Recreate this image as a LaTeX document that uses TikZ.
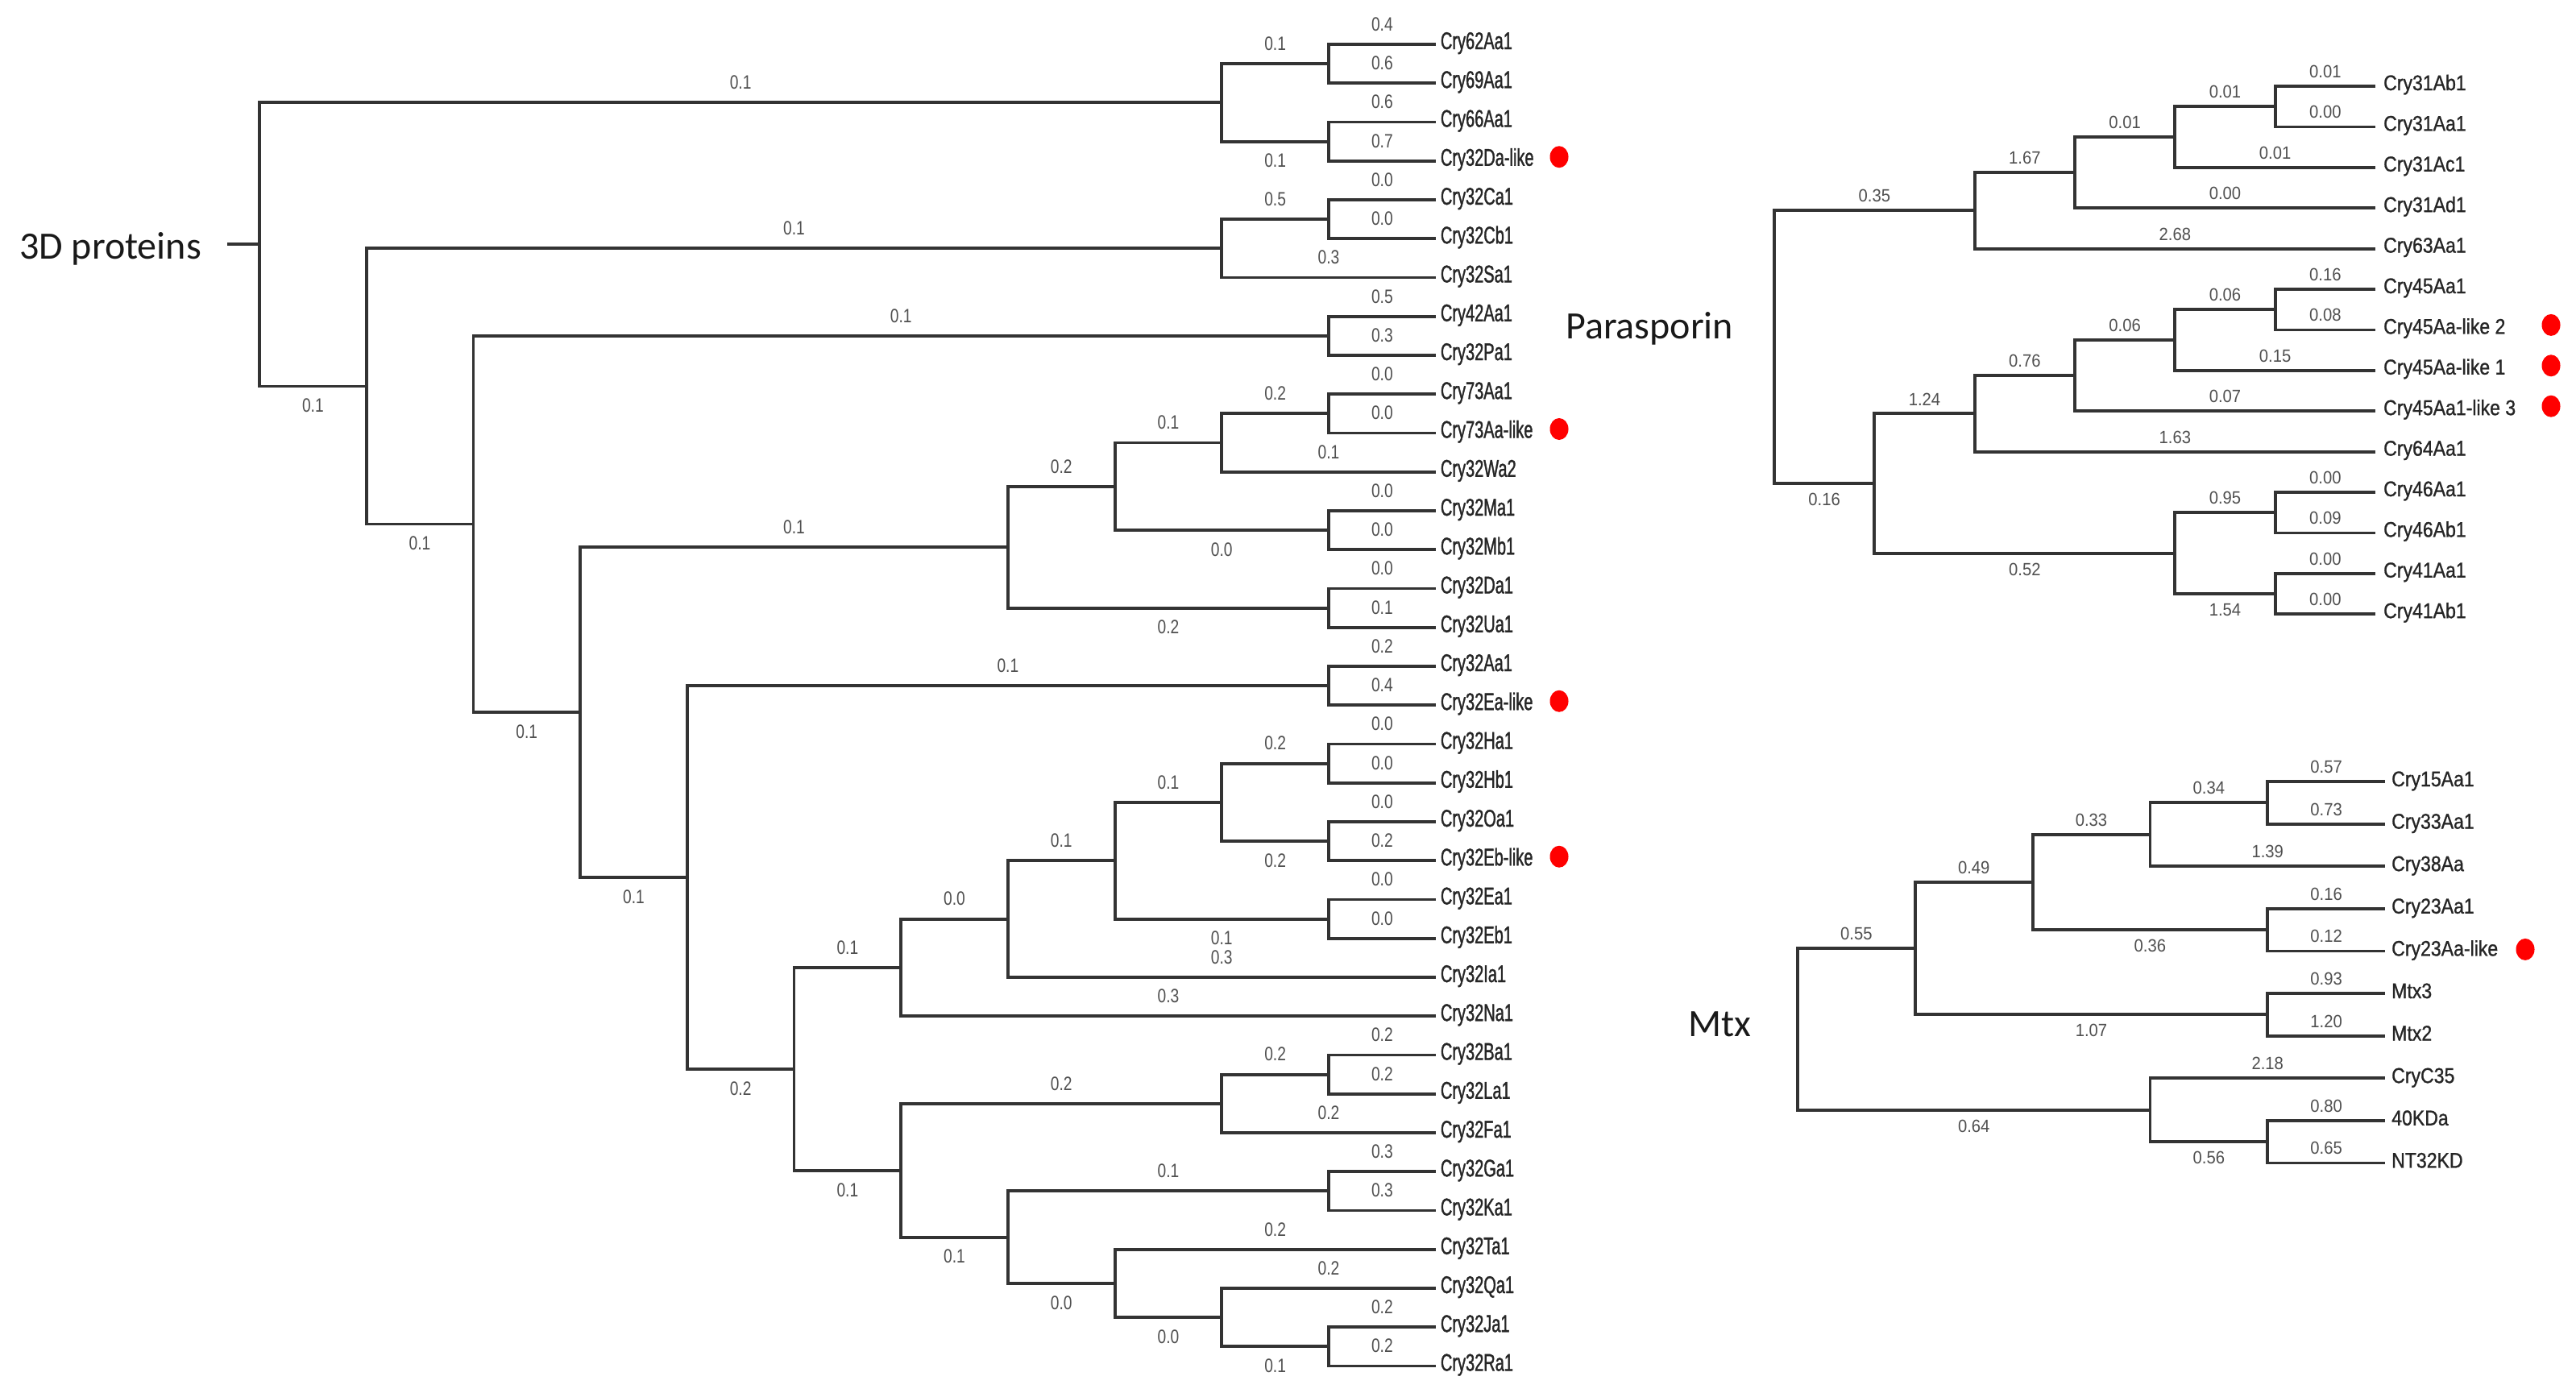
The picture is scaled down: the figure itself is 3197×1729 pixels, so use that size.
\documentclass[tikz,border=0pt]{standalone}
\usepackage{fontspec}
\usetikzlibrary{shapes.geometric}
\newfontfamily\llabfont[FakeStretch=0.667,FakeBold=1.2]{Liberation Sans}
\newfontfamily\lnumfont[FakeStretch=0.80]{Liberation Sans}
\newfontfamily\rlabfont[FakeStretch=0.87,FakeBold=1.0]{Liberation Sans}
\newfontfamily\rnumfont[FakeStretch=0.92]{Liberation Sans}
\newfontfamily\bigfont{Carlito}
\definecolor{lc}{HTML}{333333}
\definecolor{labc}{HTML}{262626}
\definecolor{numc}{HTML}{505050}
\newcommand{\LX}[1]{322+132.7*#1}
\newcommand{\LY}[1]{55+48.25*#1}
\newcommand{\PX}[1]{2202+124.33*#1}
\newcommand{\PY}[1]{107+50.4*#1}
\newcommand{\MX}[1]{2231+145.8*#1}
\newcommand{\MY}[1]{970+52.6*#1}
\newcommand{\br}[4]{\draw[branch] (#1) |- (#2) node[pos=0.75,#4] (b#2) {#3};}
\newcommand{\inL}[3]{\coordinate (#1) at ({\LX{#2}},{\LY{#3}});}
\newcommand{\inP}[3]{\coordinate (#1) at ({\PX{#2}},{\PY{#3}});}
\newcommand{\inM}[3]{\coordinate (#1) at ({\MX{#2}},{\MY{#3}});}
\newcommand{\leafL}[3]{\coordinate (#1) at ({\LX{11}},{\LY{#2}}); \node[leafL] (t#1) at (#1) {#3};}
\newcommand{\leafP}[3]{\coordinate (#1) at ({\PX{6}},{\PY{#2}}); \node[leafP] (t#1) at (#1) {#3};}
\newcommand{\leafM}[3]{\coordinate (#1) at ({\MX{5}},{\MY{#2}}); \node[leafM] (t#1) at (#1) {#3};}
\begin{document}
\begin{tikzpicture}[x=1pt,y=-1pt,
  branch/.style={draw=lc, line width=3.8pt},
  lnU/.style={font=\lnumfont\fontsize{24}{24}\selectfont, text=numc, inner sep=0pt, yshift=25pt},
  lnD/.style={font=\lnumfont\fontsize{24}{24}\selectfont, text=numc, inner sep=0pt, yshift=-24pt},
  rnU/.style={font=\rnumfont\fontsize{22}{22}\selectfont, text=numc, inner sep=0pt, yshift=18pt},
  rnD/.style={font=\rnumfont\fontsize{22}{22}\selectfont, text=numc, inner sep=0pt, yshift=-20pt},
  leafL/.style={font=\llabfont\fontsize{30}{30}\selectfont, text=labc, anchor=base west, inner sep=0pt, xshift=6pt, yshift=-6pt},
  leafP/.style={font=\rlabfont\fontsize{26.5}{26.5}\selectfont, text=labc, anchor=base west, inner sep=0pt, xshift=10pt, yshift=-5pt},
  leafM/.style={font=\rlabfont\fontsize{26.5}{26.5}\selectfont, text=labc, anchor=base west, inner sep=0pt, xshift=8pt, yshift=-6pt},
  reddot/.style={ellipse, fill=red, draw=none, minimum width=23pt, minimum height=27pt, inner sep=0pt},
  big/.style={font=\bigfont\fontsize{48}{48}\selectfont, text=black!90, anchor=base west, inner sep=0pt}]
\useasboundingbox (0,0) rectangle (3197,1729);
\fill[white] (0,0) rectangle (3197,1729);

% ================= 3D proteins tree =================
\leafL{l0}{0}{Cry62Aa1}
\leafL{l1}{1}{Cry69Aa1}
\leafL{l2}{2}{Cry66Aa1}
\leafL{l3}{3}{Cry32Da-like}
\leafL{l4}{4}{Cry32Ca1}
\leafL{l5}{5}{Cry32Cb1}
\leafL{l6}{6}{Cry32Sa1}
\leafL{l7}{7}{Cry42Aa1}
\leafL{l8}{8}{Cry32Pa1}
\leafL{l9}{9}{Cry73Aa1}
\leafL{l10}{10}{Cry73Aa-like}
\leafL{l11}{11}{Cry32Wa2}
\leafL{l12}{12}{Cry32Ma1}
\leafL{l13}{13}{Cry32Mb1}
\leafL{l14}{14}{Cry32Da1}
\leafL{l15}{15}{Cry32Ua1}
\leafL{l16}{16}{Cry32Aa1}
\leafL{l17}{17}{Cry32Ea-like}
\leafL{l18}{18}{Cry32Ha1}
\leafL{l19}{19}{Cry32Hb1}
\leafL{l20}{20}{Cry32Oa1}
\leafL{l21}{21}{Cry32Eb-like}
\leafL{l22}{22}{Cry32Ea1}
\leafL{l23}{23}{Cry32Eb1}
\leafL{l24}{24}{Cry32Ia1}
\leafL{l25}{25}{Cry32Na1}
\leafL{l26}{26}{Cry32Ba1}
\leafL{l27}{27}{Cry32La1}
\leafL{l28}{28}{Cry32Fa1}
\leafL{l29}{29}{Cry32Ga1}
\leafL{l30}{30}{Cry32Ka1}
\leafL{l31}{31}{Cry32Ta1}
\leafL{l32}{32}{Cry32Qa1}
\leafL{l33}{33}{Cry32Ja1}
\leafL{l34}{34}{Cry32Ra1}

\inL{A1}{10}{0.5}
\inL{A2}{10}{2.5}
\inL{A}{9}{1.5}
\inL{C1}{10}{4.5}
\inL{C}{9}{5.25}
\inL{E}{10}{7.5}
\inL{G111}{10}{9.5}
\inL{G11}{9}{10.25}
\inL{G12}{10}{12.5}
\inL{G1}{8}{11.375}
\inL{G2}{10}{14.5}
\inL{G}{7}{12.9375}
\inL{I}{10}{16.5}
\inL{Ka}{10}{18.5}
\inL{Kb}{10}{20.5}
\inL{K111}{9}{19.5}
\inL{K112}{10}{22.5}
\inL{K11}{8}{21}
\inL{K1}{7}{22.5}
\inL{K}{6}{23.75}
\inL{M1a}{10}{26.5}
\inL{M1}{9}{27.25}
\inL{M21}{10}{29.5}
\inL{M2211}{10}{33.5}
\inL{M221}{9}{32.75}
\inL{M22}{8}{31.875}
\inL{M2}{7}{30.6875}
\inL{M}{6}{28.96875}
\inL{J}{5}{26.359375}
\inL{H}{4}{21.4296875}
\inL{F}{3}{17.18359375}
\inL{D}{2}{12.341796875}
\inL{B}{1}{8.7958984375}
\inL{R}{0}{5.14794921875}

\br{R}{A}{0.1}{lnU}
\br{R}{B}{0.1}{lnD}
\br{A}{A1}{0.1}{lnU}
\br{A}{A2}{0.1}{lnD}
\br{A1}{l0}{0.4}{lnU}
\br{A1}{l1}{0.6}{lnU}
\br{A2}{l2}{0.6}{lnU}
\br{A2}{l3}{0.7}{lnU}
\br{B}{C}{0.1}{lnU}
\br{B}{D}{0.1}{lnD}
\br{C}{C1}{0.5}{lnU}
\br{C}{l6}{0.3}{lnU}
\br{C1}{l4}{0.0}{lnU}
\br{C1}{l5}{0.0}{lnU}
\br{D}{E}{0.1}{lnU}
\br{D}{F}{0.1}{lnD}
\br{E}{l7}{0.5}{lnU}
\br{E}{l8}{0.3}{lnU}
\br{F}{G}{0.1}{lnU}
\br{F}{H}{0.1}{lnD}
\br{G}{G1}{0.2}{lnU}
\br{G}{G2}{0.2}{lnD}
\br{G1}{G11}{0.1}{lnU}
\br{G1}{G12}{0.0}{lnD}
\br{G11}{G111}{0.2}{lnU}
\br{G11}{l11}{0.1}{lnU}
\br{G111}{l9}{0.0}{lnU}
\br{G111}{l10}{0.0}{lnU}
\br{G12}{l12}{0.0}{lnU}
\br{G12}{l13}{0.0}{lnU}
\br{G2}{l14}{0.0}{lnU}
\br{G2}{l15}{0.1}{lnU}
\br{H}{I}{0.1}{lnU}
\br{H}{J}{0.2}{lnD}
\br{I}{l16}{0.2}{lnU}
\br{I}{l17}{0.4}{lnU}
\br{J}{K}{0.1}{lnU}
\br{J}{M}{0.1}{lnD}
\br{K}{K1}{0.0}{lnU}
\br{K}{l25}{0.3}{lnU}
\br{K1}{K11}{0.1}{lnU}
\br{K1}{l24}{0.3}{lnU}
\br{K11}{K111}{0.1}{lnU}
\br{K11}{K112}{0.1}{lnD}
\br{K111}{Ka}{0.2}{lnU}
\br{K111}{Kb}{0.2}{lnD}
\br{Ka}{l18}{0.0}{lnU}
\br{Ka}{l19}{0.0}{lnU}
\br{Kb}{l20}{0.0}{lnU}
\br{Kb}{l21}{0.2}{lnU}
\br{K112}{l22}{0.0}{lnU}
\br{K112}{l23}{0.0}{lnU}
\br{M}{M1}{0.2}{lnU}
\br{M}{M2}{0.1}{lnD}
\br{M1}{M1a}{0.2}{lnU}
\br{M1}{l28}{0.2}{lnU}
\br{M1a}{l26}{0.2}{lnU}
\br{M1a}{l27}{0.2}{lnU}
\br{M2}{M21}{0.1}{lnU}
\br{M2}{M22}{0.0}{lnD}
\br{M21}{l29}{0.3}{lnU}
\br{M21}{l30}{0.3}{lnU}
\br{M22}{l31}{0.2}{lnU}
\br{M22}{M221}{0.0}{lnD}
\br{M221}{l32}{0.2}{lnU}
\br{M221}{M2211}{0.1}{lnD}
\br{M2211}{l33}{0.2}{lnU}
\br{M2211}{l34}{0.2}{lnU}

\coordinate (stub) at (282,{\LY{5.14794921875}});
\draw[branch] (stub) -- (R);
\node[big] (t3d) at (24,321) {3D proteins};

\node[reddot] (d3) at (1935,{\LY{3}-5}) {};
\node[reddot] (d10) at (1935,{\LY{10}-5}) {};
\node[reddot] (d17) at (1935,{\LY{17}-5}) {};
\node[reddot] (d21) at (1935,{\LY{21}-5}) {};

% ================= Parasporin tree =================
\leafP{p0}{0}{Cry31Ab1}
\leafP{p1}{1}{Cry31Aa1}
\leafP{p2}{2}{Cry31Ac1}
\leafP{p3}{3}{Cry31Ad1}
\leafP{p4}{4}{Cry63Aa1}
\leafP{p5}{5}{Cry45Aa1}
\leafP{p6}{6}{Cry45Aa-like 2}
\leafP{p7}{7}{Cry45Aa-like 1}
\leafP{p8}{8}{Cry45Aa1-like 3}
\leafP{p9}{9}{Cry64Aa1}
\leafP{p10}{10}{Cry46Aa1}
\leafP{p11}{11}{Cry46Ab1}
\leafP{p12}{12}{Cry41Aa1}
\leafP{p13}{13}{Cry41Ab1}

\inP{Q111}{5}{0.5}
\inP{Q11}{4}{1.25}
\inP{Q1}{3}{2.125}
\inP{Q}{2}{3.0625}
\inP{T111}{5}{5.5}
\inP{T11}{4}{6.25}
\inP{T1}{3}{7.125}
\inP{T}{2}{8.0625}
\inP{U1}{5}{10.5}
\inP{U2}{5}{12.5}
\inP{U}{4}{11.5}
\inP{S}{1}{9.78125}
\inP{P0}{0}{6.421875}

\br{P0}{Q}{0.35}{rnU}
\br{P0}{S}{0.16}{rnD}
\br{Q}{Q1}{1.67}{rnU}
\br{Q}{p4}{2.68}{rnU}
\br{Q1}{Q11}{0.01}{rnU}
\br{Q1}{p3}{0.00}{rnU}
\br{Q11}{Q111}{0.01}{rnU}
\br{Q11}{p2}{0.01}{rnU}
\br{Q111}{p0}{0.01}{rnU}
\br{Q111}{p1}{0.00}{rnU}
\br{S}{T}{1.24}{rnU}
\br{S}{U}{0.52}{rnD}
\br{T}{T1}{0.76}{rnU}
\br{T}{p9}{1.63}{rnU}
\br{T1}{T11}{0.06}{rnU}
\br{T1}{p8}{0.07}{rnU}
\br{T11}{T111}{0.06}{rnU}
\br{T11}{p7}{0.15}{rnU}
\br{T111}{p5}{0.16}{rnU}
\br{T111}{p6}{0.08}{rnU}
\br{U}{U1}{0.95}{rnU}
\br{U}{U2}{1.54}{rnD}
\br{U1}{p10}{0.00}{rnU}
\br{U1}{p11}{0.09}{rnU}
\br{U2}{p12}{0.00}{rnU}
\br{U2}{p13}{0.00}{rnU}

\node[big] (tpara) at (1943,420) {Parasporin};

\node[reddot] (dp6) at (3166,{\PY{6}-6}) {};
\node[reddot] (dp7) at (3166,{\PY{7}-6}) {};
\node[reddot] (dp8) at (3166,{\PY{8}-6}) {};

% ================= Mtx tree =================
\leafM{m0}{0}{Cry15Aa1}
\leafM{m1}{1}{Cry33Aa1}
\leafM{m2}{2}{Cry38Aa}
\leafM{m3}{3}{Cry23Aa1}
\leafM{m4}{4}{Cry23Aa-like}
\leafM{m5}{5}{Mtx3}
\leafM{m6}{6}{Mtx2}
\leafM{m7}{7}{CryC35}
\leafM{m8}{8}{40KDa}
\leafM{m9}{9}{NT32KD}

\inM{N111}{4}{0.5}
\inM{N11}{3}{1.25}
\inM{N12}{4}{3.5}
\inM{N1}{2}{2.375}
\inM{N2}{4}{5.5}
\inM{N}{1}{3.9375}
\inM{O1}{4}{8.5}
\inM{O}{3}{7.75}
\inM{M0}{0}{5.84375}

\br{M0}{N}{0.55}{rnU}
\br{M0}{O}{0.64}{rnD}
\br{N}{N1}{0.49}{rnU}
\br{N}{N2}{1.07}{rnD}
\br{N1}{N11}{0.33}{rnU}
\br{N1}{N12}{0.36}{rnD}
\br{N11}{N111}{0.34}{rnU}
\br{N11}{m2}{1.39}{rnU}
\br{N111}{m0}{0.57}{rnU}
\br{N111}{m1}{0.73}{rnU}
\br{N12}{m3}{0.16}{rnU}
\br{N12}{m4}{0.12}{rnU}
\br{N2}{m5}{0.93}{rnU}
\br{N2}{m6}{1.20}{rnU}
\br{O}{m7}{2.18}{rnU}
\br{O}{O1}{0.56}{rnD}
\br{O1}{m8}{0.80}{rnU}
\br{O1}{m9}{0.65}{rnU}

\node[big] (tmtx) at (2095,1286) {Mtx};

\node[reddot] (dm4) at (3134,{\MY{4}-2}) {};
\end{tikzpicture}
\end{document}
